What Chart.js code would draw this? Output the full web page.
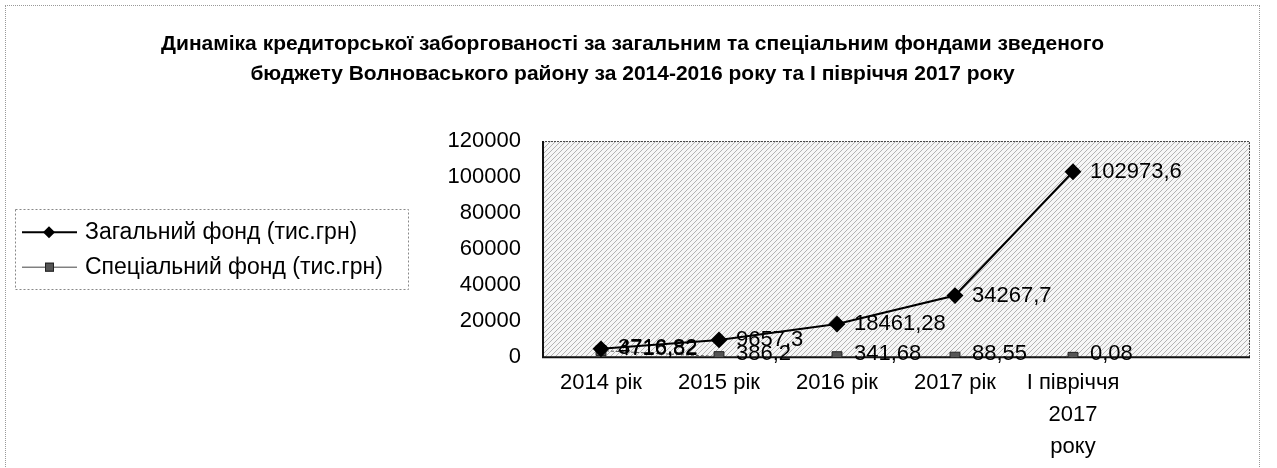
<!DOCTYPE html>
<html>
<head>
<meta charset="utf-8">
<script src="https://cdn.jsdelivr.net/npm/chart.js@4/dist/chart.umd.min.js"></script>
<style>
    body { margin: 0; background: #fff; }
    #frame { position: absolute; left: 5px; top: 5px; width: 1253px; height: 470px; border: 1px dotted #999; }
</style>
</head>
<body>
<div id="frame"><canvas id="debt-chart"></canvas></div>
<script>
// Data
const categories = ['2014 рік', '2015 рік', '2016 рік', '2017 рік', ['I півріччя', '2017', 'року'], ''];
const generalFund = [4716.82, 9657.3, 18461.28, 34267.7, 102973.6, null];
const specialFund = [3716.82, 386.2, 341.68, 88.55, 0.08, null];
const seriesNames = ['Загальний фонд (тис.грн)', 'Спеціальний фонд (тис.грн)'];
const yTicks = [0, 20000, 40000, 60000, 80000, 100000, 120000];

const FONT = 'Liberation Sans, Arial, sans-serif';

function hatchPattern(ctx) {
    const p = document.createElement('canvas');
    p.width = 5; p.height = 5;
    const g = p.getContext('2d');
    g.fillStyle = '#f6f6f6'; g.fillRect(0, 0, 5, 5);
    g.strokeStyle = '#ababab'; g.lineWidth = 0.9;
    g.beginPath();
    g.moveTo(0, 5); g.lineTo(5, 0);
    g.moveTo(-1, 1); g.lineTo(1, -1);
    g.moveTo(4, 6); g.lineTo(6, 4);
    g.stroke();
    return ctx.createPattern(p, 'repeat');
}

const plotBackground = {
    id: 'plotBackground',
    beforeDraw(chart) {
        const { ctx, chartArea: a } = chart;
        ctx.save();
        ctx.fillStyle = hatchPattern(ctx);
        ctx.fillRect(a.left, a.top, a.right - a.left, a.bottom - a.top);
        // dotted top / right, solid left / bottom
        ctx.strokeStyle = '#444';
        ctx.lineWidth = 1;
        ctx.setLineDash([2, 1]);
        ctx.beginPath();
        ctx.moveTo(a.left, a.top + 0.5); ctx.lineTo(a.right - 0.5, a.top + 0.5); ctx.lineTo(a.right - 0.5, a.bottom);
        ctx.stroke();
        ctx.setLineDash([]);
        ctx.strokeStyle = '#111';
        ctx.lineWidth = 2;
        ctx.beginPath();
        ctx.moveTo(a.left + 1, a.top); ctx.lineTo(a.left + 1, a.bottom); ctx.lineTo(a.right, a.bottom);
        ctx.stroke();
        ctx.restore();
    }
};

const valueLabels = {
    id: 'valueLabels',
    afterDatasetsDraw(chart) {
        const ctx = chart.ctx;
        ctx.save();
        ctx.font = '22px ' + FONT;
        ctx.fillStyle = '#000';
        ctx.textBaseline = 'middle';
        ctx.textAlign = 'left';
        chart.data.datasets.forEach((ds, i) => {
            chart.getDatasetMeta(i).data.forEach((pt, j) => {
                const v = ds.data[j];
                if (v === null) return;
                ctx.fillText(String(v).replace('.', ','), pt.x + 17, pt.y - (i === 1 ? 3 : 0));
            });
        });
        ctx.restore();
    }
};

// legend with line+marker samples and a dotted frame, left of the axis
const sideLegend = {
    id: 'sideLegend',
    afterDraw(chart) {
        const ctx = chart.ctx;
        const a = chart.chartArea;
        const mid = (a.top + a.bottom) / 2;
        const rows = [mid - 17, mid + 18];
        const x0 = 16;
        ctx.save();
        ctx.strokeStyle = '#888';
        ctx.lineWidth = 1;
        ctx.setLineDash([2, 2]);
        ctx.strokeRect(9.5, Math.round(mid - 40) + 0.5, 393, 80);
        ctx.setLineDash([]);
        chart.data.datasets.forEach((ds, i) => {
            const y = rows[i];
            ctx.strokeStyle = i === 0 ? '#000' : '#444';
            ctx.lineWidth = i === 0 ? 2 : 1;
            ctx.beginPath(); ctx.moveTo(x0, y); ctx.lineTo(x0 + 55, y); ctx.stroke();
            if (i === 0) {
                ctx.fillStyle = '#000';
                ctx.beginPath();
                ctx.moveTo(x0 + 27, y - 6); ctx.lineTo(x0 + 33, y); ctx.lineTo(x0 + 27, y + 6); ctx.lineTo(x0 + 21, y);
                ctx.closePath(); ctx.fill();
            } else {
                ctx.fillStyle = '#555';
                ctx.fillRect(x0 + 23, y - 4.5, 9, 9);
                ctx.strokeStyle = '#222';
                ctx.strokeRect(x0 + 23.5, y - 4, 8, 8);
            }
            ctx.fillStyle = '#000';
            ctx.font = '23px ' + FONT;
            ctx.textBaseline = 'middle';
            ctx.fillText(ds.label, x0 + 63, y);
        });
        ctx.restore();
    }
};

const ctx = document.getElementById('debt-chart').getContext('2d');
const debtChart = new Chart(ctx, {
    type: 'line',
    data: {
        labels: categories,
        datasets: [
            {
                label: seriesNames[0],
                data: generalFund,
                borderColor: '#000',
                borderWidth: 2,
                pointStyle: 'rectRot',
                pointRadius: 7,
                pointBackgroundColor: '#000',
                pointBorderColor: '#000',
                fill: false,
                tension: 0
            },
            {
                label: seriesNames[1],
                data: specialFund,
                borderColor: '#555',
                borderWidth: 1,
                borderDash: [3, 2],
                pointStyle: 'rect',
                pointRadius: 7,
                pointBackgroundColor: '#555',
                pointBorderColor: '#222',
                fill: false,
                tension: 0
            }
        ]
    },
    options: {
        responsive: true,
        maintainAspectRatio: false,
        animation: false,
        layout: { padding: { left: 0, right: 0, top: 0, bottom: 11 } },
        plugins: {
            title: {
                display: true,
                text: [
                    'Динаміка кредиторської заборгованості за загальним та спеціальним фондами зведеного',
                    'бюджету Волноваського району за 2014-2016 року та I півріччя 2017 року'
                ],
                color: '#000',
                font: { family: FONT, size: 21, weight: 'bold', lineHeight: 1.43 },
                padding: { top: 23, bottom: 52 }
            },
            legend: { display: false },
            tooltip: { enabled: false }
        },
        scales: {
            x: {
                offset: true,
                grid: { display: false },
                border: { display: false },
                ticks: {
                    color: '#000',
                    font: { family: FONT, size: 22, lineHeight: 1.45 },
                    padding: 2,
                    maxRotation: 0,
                    autoSkip: false
                }
            },
            y: {
                min: 0,
                max: 120000,
                grid: { display: false },
                border: { display: false },
                afterBuildTicks: scale => { scale.ticks = yTicks.map(v => ({ value: v })); },
                // the legend sits in the space left of the tick labels
                afterFit: scale => { scale.width = 536; },
                ticks: {
                    color: '#000',
                    font: { family: FONT, size: 22 },
                    padding: 13,
                    callback: v => String(v)
                }
            }
        }
    },
    plugins: [plotBackground, valueLabels, sideLegend]
});
</script>
</body>
</html>
